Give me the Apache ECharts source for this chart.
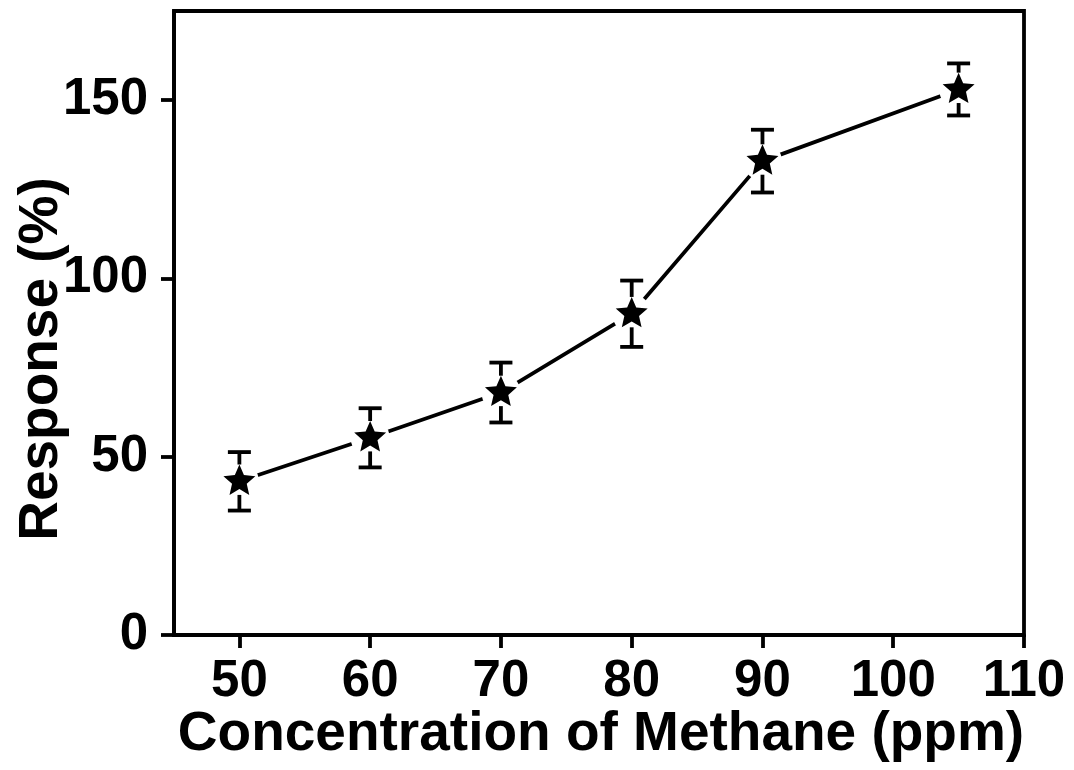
<!DOCTYPE html>
<html>
<head>
<meta charset="utf-8">
<title>Response vs Methane Concentration</title>
<script src="https://cdn.jsdelivr.net/npm/echarts@6/dist/echarts.min.js"></script>
<style>
  html, body { margin: 0; padding: 0; background: #fff; }
  #chart { width: 1074px; height: 770px; }
</style>
</head>
<body>
<div id="chart"></div>
<script>
// Methane concentration (ppm) and sensor response (%) with error half-widths
const concentration = [50, 60, 70, 80, 90, 105];
const response = [43.1, 55.3, 68.0, 90.1, 132.9, 153.0];
const errorHalf = [8.2, 8.3, 8.4, 9.3, 8.8, 7.3];

const xTicks = [50, 60, 70, 80, 90, 100, 110];
const yTicks = [0, 50, 100, 150];

const FONT = '"Liberation Sans", Arial, Helvetica, sans-serif';
const INK = '#000';
const LW = 3.8;

// Five-pointed star outline in pixel space, centred on (cx, cy)
function starPoints(cx, cy, R) {
  const pts = [];
  for (let k = 0; k < 10; k++) {
    const r = k % 2 === 0 ? R : R * 0.46;
    const a = (-90 + 36 * k) * Math.PI / 180;
    pts.push([cx + r * Math.cos(a), cy + r * Math.sin(a)]);
  }
  return pts;
}
const STAR_R = 16.8;                       // outer radius in px
const STAR_BOTTOM = STAR_R * 0.809;        // lowest point of the star below its centre
const GAP_R = 19.5;                        // clear ring that breaks the connecting line

const points = concentration.map((x, i) => [x, response[i]]);
const errItems = concentration.map((x, i) => [x, response[i], errorHalf[i]]);

const chart = echarts.init(document.getElementById('chart'), null, { renderer: 'canvas' });

chart.setOption({
  backgroundColor: '#fff',
  animation: false,
  grid: {
    left: 174, right: 50, top: 11, bottom: 135,
    show: true, borderColor: INK, borderWidth: LW, backgroundColor: 'transparent'
  },
  xAxis: {
    type: 'value', min: 45, max: 110,
    splitLine: { show: false },
    axisLine: { lineStyle: { color: INK, width: LW } },
    axisTick: { customValues: xTicks, length: 13, lineStyle: { color: INK, width: LW } },
    axisLabel: { customValues: xTicks, margin: 21, color: INK, fontFamily: FONT, fontWeight: 'bold', fontSize: 51 }
  },
  yAxis: {
    type: 'value', min: 0, max: 175,
    splitLine: { show: false },
    axisLine: { lineStyle: { color: INK, width: LW } },
    axisTick: { customValues: yTicks, length: 13, lineStyle: { color: INK, width: LW } },
    axisLabel: { customValues: yTicks, margin: 26, color: INK, fontFamily: FONT, fontWeight: 'bold', fontSize: 51 }
  },
  graphic: [
    { type: 'text', x: 601, y: 735,
      style: { text: 'Concentration of Methane (ppm)', x: 0, y: 0, align: 'center', verticalAlign: 'middle', fill: INK, font: 'bold 55px ' + FONT } },
    { type: 'text', x: 42, y: 359, rotation: Math.PI / 2,
      style: { text: 'Response (%)', x: 0, y: 0, align: 'center', verticalAlign: 'middle', fill: INK, font: 'bold 55px ' + FONT } }
  ],
  series: [
    { type: 'line', data: points, showSymbol: false, z: 1, lineStyle: { color: INK, width: LW }, silent: true },
    {
      // white ring around each point, the error bars, then the star marker
      type: 'custom', data: errItems, z: 5, silent: true,
      renderItem: function (params, api) {
        const x = api.value(0), y = api.value(1), e = api.value(2);
        const c = api.coord([x, y]);
        const t = api.coord([x, y + e]);
        const b = api.coord([x, y - e]);
        const cap = 11.5;
        const style = { stroke: INK, lineWidth: LW, fill: null };
        return {
          type: 'group',
          children: [
            { type: 'circle', shape: { cx: c[0], cy: c[1], r: GAP_R }, style: { fill: '#ffffff' }, z2: 1 },
            { type: 'line', shape: { x1: c[0], y1: t[1], x2: c[0], y2: c[1] - STAR_R }, style: style, z2: 2 },
            { type: 'line', shape: { x1: c[0], y1: c[1] + STAR_BOTTOM, x2: c[0], y2: b[1] }, style: style, z2: 2 },
            { type: 'line', shape: { x1: c[0] - cap, y1: t[1], x2: c[0] + cap, y2: t[1] }, style: style, z2: 2 },
            { type: 'line', shape: { x1: c[0] - cap, y1: b[1], x2: c[0] + cap, y2: b[1] }, style: style, z2: 2 },
            { type: 'polygon', shape: { points: starPoints(c[0], c[1], STAR_R) }, style: { fill: INK }, z2: 3 }
          ]
        };
      }
    }
  ]
});
</script>
</body>
</html>
